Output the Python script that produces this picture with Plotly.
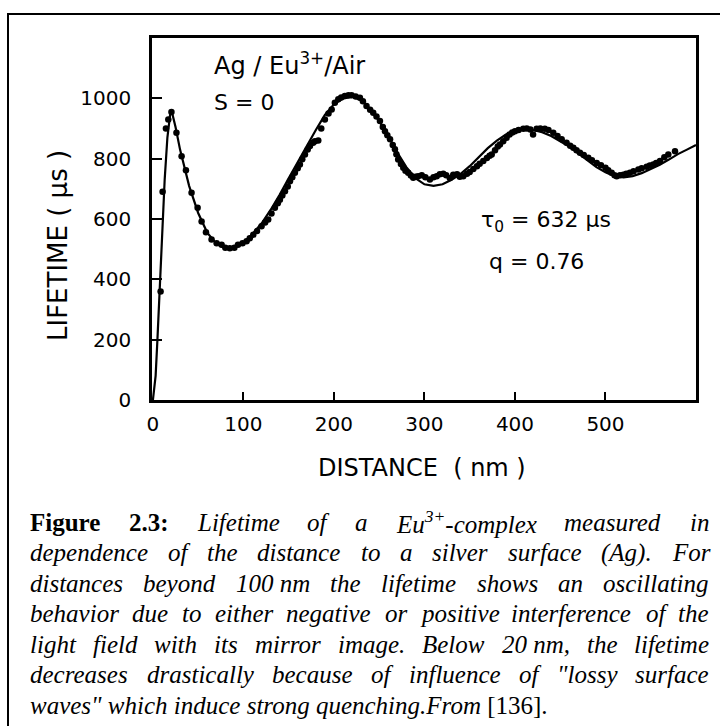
import plotly.graph_objects as go

# ---------------- data ----------------
meas_distance_nm = [8.5, 10.7, 14.4, 17, 20.5, 26, 31.7, 36.5, 42.7, 49.4, 53.8, 58.6, 64.8, 70.4, 75.9,
                    80, 85, 90, 94, 99, 103.5, 107, 110.9, 115, 120, 124, 127.4, 131, 134.8, 138, 140.3,
                    143, 145.9, 149, 151.4, 154, 156.9, 160, 162.4, 165, 168, 171, 173.5, 177, 179, 182.7,
                    186, 190, 194, 197.5, 201, 204.8, 208, 212, 216, 219.5, 224, 228.7, 232, 236, 240,
                    243.4, 247, 250.8, 254, 256.4, 259, 262, 265, 267.4, 269, 271, 274, 276.6, 279, 282,
                    285, 287.6, 290, 293, 297, 301, 306, 310, 313.5, 317, 320.8, 324, 328, 331.8, 336,
                    339, 342.9, 347, 350, 354, 358, 361, 365, 369, 372, 374.3, 378, 381, 383.4, 387,
                    390.8, 394, 397, 400, 404, 409.2, 413, 417, 420, 424, 428, 433, 437, 442.3, 447,
                    451.6, 457, 461, 464.5, 468, 471.8, 476, 481, 485, 490.3, 495, 500, 503, 506.8, 510,
                    512.4, 516, 519.7, 523, 527, 531, 536.3, 540, 545.5, 549, 552.8, 556, 560.2, 565,
                    569.4, 576.8]
meas_lifetime_us = [360, 690, 900, 930, 955, 886, 808, 762, 687, 637, 592, 556, 532, 520, 515,
                    505, 503, 505, 515, 520, 526, 536, 548, 560, 576, 588, 598, 618, 637, 652, 664,
                    678, 692, 708, 725, 738, 753, 768, 781, 798, 814, 830, 842, 853, 858, 860,
                    900, 930, 950, 963, 985, 997, 1003, 1008, 1010, 1010, 1006, 1002, 990, 975, 962,
                    952, 940, 925, 905, 891, 878, 864, 845, 831, 815, 797, 782, 770, 760, 753,
                    744, 737, 740, 742, 745, 738, 731, 738, 742, 748, 750, 745, 736, 747, 748,
                    740, 742, 750, 756, 766, 775, 783, 792, 802, 810, 814, 828, 840, 847, 858,
                    869, 880, 887, 891, 895, 899, 900, 897, 880, 899, 900, 899, 895, 886, 875,
                    864, 853, 843, 836, 828, 820, 812, 803, 795, 786, 778, 770, 762, 753, 745,
                    742, 745, 747, 750, 753, 758, 764, 768, 773, 777, 781, 786, 792, 805,
                    814, 825]

fit_distance_nm = [0, 3, 5, 7, 10, 13, 16, 19, 21, 25, 30, 40, 50, 60, 70, 80, 90, 100, 110, 120,
                   130, 140, 150, 160, 170, 180, 190, 200, 210, 220, 230, 240, 250, 260, 270, 280,
                   290, 300, 310, 320, 330, 340, 350, 360, 370, 380, 390, 400, 410, 420, 430, 440,
                   450, 460, 470, 480, 490, 500, 510, 520, 530, 540, 550, 560, 570, 580, 590, 600]
fit_lifetime_us = [0, 80, 200, 330, 540, 730, 870, 945, 955, 905, 830, 710, 620, 555, 518, 502, 505,
                   522, 550, 585, 630, 680, 735, 790, 845, 895, 945, 980, 1000, 1005, 995, 965, 925,
                   875, 820, 772, 735, 715, 710, 715, 730, 750, 775, 805, 835, 860, 880, 893, 898,
                   895, 888, 875, 858, 840, 818, 795, 772, 755, 742, 738, 742, 752, 765, 780, 797,
                   815, 830, 845]

x_tick_vals = [0, 100, 200, 300, 400, 500]
y_tick_vals = [0, 200, 400, 600, 800, 1000]

caption_lines = [
    [("Figure", "b"), ("2.3:", "b"), ("Lifetime", "i"), ("of", "i"), ("a", "i"),
     ("Eu<sup>3+</sup>-complex", "eu"), ("measured", "i"), ("in", "i")],
    [(w, "i") for w in "dependence of the distance to a silver surface (Ag). For".split()],
    [("distances", "i"), ("beyond", "i"), ("100 nm", "i"), ("the", "i"), ("lifetime", "i"),
     ("shows", "i"), ("an", "i"), ("oscillating", "i")],
    [(w, "i") for w in "behavior due to either negative or positive interference of the".split()],
    [("light", "i"), ("field", "i"), ("with", "i"), ("its", "i"), ("mirror", "i"), ("image.", "i"),
     ("Below", "i"), ("20 nm,", "i"), ("the", "i"), ("lifetime", "i")],
    [(w, "i") for w in 'decreases drastically because of influence of "lossy surface'.split()],
]
caption_last = '<i>waves" which induce strong quenching.From</i> [136].'

# ---------------- layout geometry (pixels) ----------------
W, H = 720, 726
ML, MR, MT, MB = 152, 24, 38, 326
PW, PH = W - ML - MR, H - MT - MB


def px2paper(x, y):
    return (x - ML) / PW, 1 - (y - MT) / PH


# Times-like character widths (per 1000 em)
ITAL = dict(a=500, b=500, c=444, d=500, e=444, f=278, g=500, h=500, i=278, j=278, k=444, l=278,
            m=722, n=500, o=500, p=500, q=500, r=389, s=389, t=278, u=500, v=444, w=667, x=444,
            y=444, z=389, A=611, B=611, E=611, F=611, L=556)
ITAL.update({" ": 250, ".": 250, ",": 250, ":": 333, "-": 333, "(": 333, ")": 333, '"': 420,
             "[": 389, "]": 389, "+": 675})
for dgt in "0123456789":
    ITAL[dgt] = 500
BOLD = dict(F=611, i=278, g=500, u=556, r=444, e=444)
BOLD.update({"2": 500, "3": 500, ".": 250, ":": 333})


def word_width(text, style, fs):
    if style == "b":
        return sum(BOLD.get(c, 500) for c in text) * fs / 1000
    if style == "eu":
        return (611 + 500 + 0.7 * (500 + 675) + sum(ITAL[c] for c in "-complex")) * fs / 1000
    return sum(ITAL.get(c, 500) for c in text) * fs / 1000


fig = go.Figure()
fig.add_trace(go.Scatter(x=fit_distance_nm, y=fit_lifetime_us, mode="lines",
                         line=dict(color="black", width=2.2), showlegend=False, hoverinfo="skip"))
fig.add_trace(go.Scatter(x=meas_distance_nm, y=meas_lifetime_us, mode="markers",
                         marker=dict(color="black", size=6.5), showlegend=False))

axis_common = dict(showline=True, linewidth=2.5, linecolor="black", mirror=True, ticks="inside",
                   tickwidth=2, tickcolor="black", showgrid=False, zeroline=False,
                   tickfont=dict(family="DejaVu Sans", size=20, color="black"))
fig.update_xaxes(range=[-1, 600], tickvals=x_tick_vals, ticklen=8, ticklabelstandoff=4, **axis_common)
fig.update_yaxes(range=[0, 1200], tickvals=y_tick_vals, ticklen=10, ticklabelstandoff=14, **axis_common)

annotations = []


def add_text(text, x, y, size, family="DejaVu Sans", xanchor="left", yanchor="middle", angle=0):
    px_, py_ = px2paper(x, y)
    annotations.append(dict(text=text, x=px_, y=py_, xref="paper", yref="paper", showarrow=False,
                            xanchor=xanchor, yanchor=yanchor, textangle=angle,
                            font=dict(family=family, size=size, color="black")))


# axis titles
add_text("DISTANCE\u00a0\u00a0( nm )", 422, 468, 24, xanchor="center")
add_text("LIFETIME\u00a0( μs )", 58, 246, 26, xanchor="center", angle=-90)

# in-plot labels
add_text("Ag / Eu<sup>3+</sup>/Air", 212, 64, 24)
add_text("S = 0", 212, 102, 22)
add_text("τ<sub>0</sub> = 632 μs", 479, 221, 22)
add_text("q = 0.76", 487, 261, 22)

# caption, justified word by word
FS = 25
L, R = 28, 707
baselines = [530, 560.5, 591, 621.5, 652, 682.5, 713]
for line, base in zip(caption_lines, baselines):
    widths = [word_width(t, s, FS) for t, s in line]
    gap = (R - L - sum(widths)) / (len(line) - 1)
    xpos = L
    for (t, s), w in zip(line, widths):
        html = f"<b>{t}</b>" if s == "b" else f"<i>{t}</i>"
        add_text(html, xpos, base - 0.32 * FS, FS, family="Liberation Serif")
        xpos += w + gap
add_text(caption_last, L, baselines[-1] - 0.32 * FS, FS, family="Liberation Serif")

fig.update_layout(
    width=W, height=H, margin=dict(l=ML, r=MR, t=MT, b=MB, autoexpand=False),
    paper_bgcolor="white", plot_bgcolor="white", annotations=annotations,
    shapes=[dict(type="rect", xref="paper", yref="paper",
                 x0=(8 - ML) / PW, y0=1 - (740 - MT) / PH, x1=(740 - ML) / PW, y1=1 - (14 - MT) / PH,
                 line=dict(color="black", width=2), layer="below")],
)

fig.write_html("out.html")
